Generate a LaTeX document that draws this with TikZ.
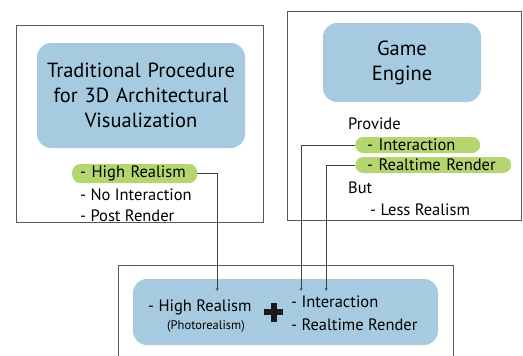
\documentclass[tikz,border=0pt]{standalone}
\usepackage{fontspec}
\setmainfont{PT Sans}
\definecolor{boxblue}{RGB}{166,203,224}
\definecolor{pillgreen}{RGB}{180,214,112}
\tikzset{
  frame/.style={draw=black!65, line width=0.7pt},
  blockbox/.style={fill=boxblue, rounded corners=14pt, align=center,
    font=\fontsize{20.5}{25}\selectfont},
  pill/.style={fill=pillgreen, rounded corners=8pt, minimum height=16pt,
    inner ysep=0pt, anchor=west, align=left, font=\fontsize{16.5}{17}\selectfont},
  item/.style={anchor=west, inner sep=0pt, font=\fontsize{16.5}{17}\selectfont},
}

\begin{document}
\begin{tikzpicture}[>=stealth, x=1pt, y=-1pt]
    \useasboundingbox (0,0) rectangle (523,356);

    % outer frames
    \draw[frame] (16,25) rectangle (263,222);
    \draw[frame] (287,11) rectangle (521,220);
    \draw[frame] (118,356)--(118,265)--(453,265)--(453,356);

    % traditional procedure
    \node[blockbox, minimum width=208pt, minimum height=105pt, text width=200pt] (trad) at (141,95.5)
        {Traditional Procedure\\for 3D Architectural\\Visualization};
    \node[pill, text width=109pt, inner xsep=8pt, minimum height=19pt] (hr) at (72,173.5) {- High Realism};
    \node[item] (noint) at (80,195) {- No Interaction};
    \node[item] (post) at (80,216) {- Post Render};

    % game engine
    \node[blockbox, minimum width=158pt, minimum height=79pt, text width=150pt] (game) at (402,62.5)
        {Game\\Engine};
    \node[item] (prov) at (348,124) {Provide};
    \node[pill, text width=101pt, inner xsep=12pt] (int) at (355,145) {- Interaction};
    \node[pill, text width=132pt, inner xsep=12pt] (rt) at (355,165) {- Realtime Render};
    \node[item] (but) at (348,188) {But};
    \node[item] (less) at (370,210) {- Less Realism};

    % combined result
    \node[blockbox, minimum width=305pt, minimum height=66pt] (comb) at (285.5,312) {};
    \node[item] (chr) at (148,307) {- High Realism};
    \node[font=\fontsize{12.5}{13}\selectfont, inner sep=0pt] (photo) at (206,326) {(Photorealism)};
    \coordinate (plus) at (273.5,312);
    \fill[black!90] ([xshift=-9.5pt,yshift=-3pt]plus) rectangle ([xshift=9.5pt,yshift=3pt]plus);
    \fill[black!90] ([xshift=-3pt,yshift=-9.5pt]plus) rectangle ([xshift=3pt,yshift=9.5pt]plus);
    \node[item] (cint) at (291,302) {- Interaction};
    \node[item] (crt) at (291,325) {- Realtime Render};

    \coordinate (inHR) at (217,291);
    \coordinate (inInt) at (301,291);
    \coordinate (inRt) at (326,291);

    \draw[->, black!75] (hr.east) -| (inHR);
    \draw[->, black!75] (int.west) -| (inInt);
    \draw[->, black!75] (rt.west) -| (inRt);
\end{tikzpicture}
\end{document}
